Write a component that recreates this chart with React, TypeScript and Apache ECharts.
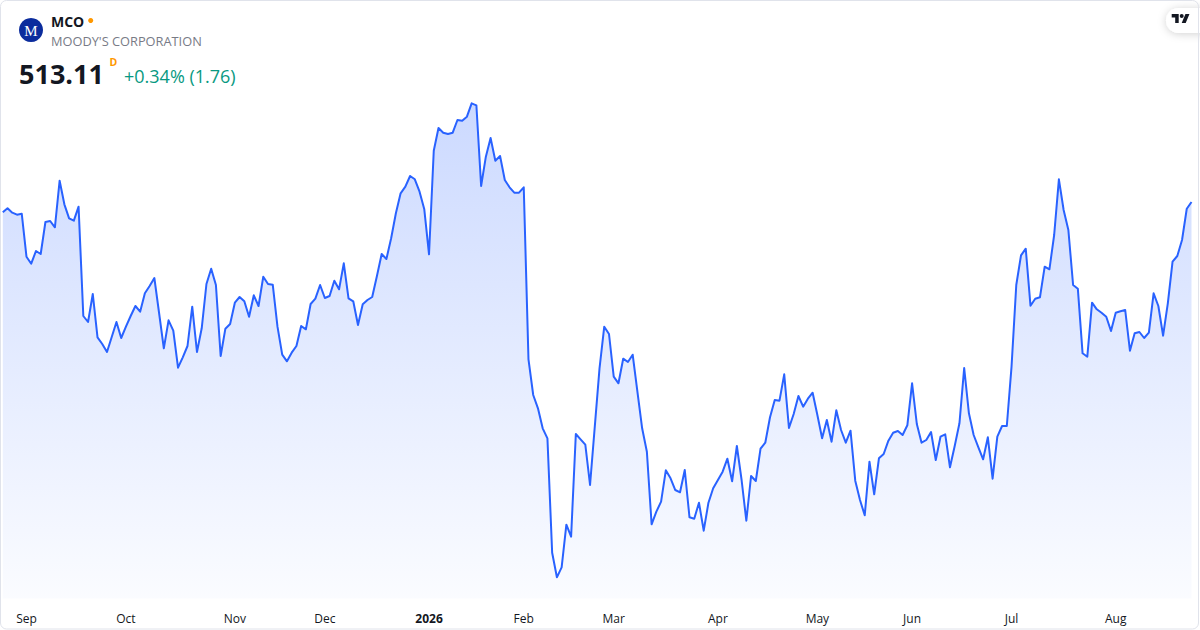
import React, { useEffect, useRef } from "react";
import * as echarts from "echarts";

// ---- Data ----
const TICKER = "MCO";
const COMPANY = "MOODY'S CORPORATION";
const LAST_PRICE = "513.11";
const CHANGE_TEXT = "+0.34% (1.76)";

const START_DATE = "2025-08-25";
const HOLIDAYS = [
  "2025-09-01", "2025-11-27", "2025-12-25", "2026-01-01", "2026-01-19",
  "2026-02-16", "2026-04-03", "2026-05-25", "2026-06-19", "2026-07-03",
];
const MONTHS = ["Jan", "Feb", "Mar", "Apr", "May", "Jun", "Jul", "Aug", "Sep", "Oct", "Nov", "Dec"];

const closes = [
  510.43, 511.47, 510.33, 509.81, 510.07, 498.89, 497.07, 500.37, 499.59, 507.91,
  508.17, 506.53, 518.65, 512.51, 508.87, 508.25, 511.89, 483.47, 481.91, 489.19,
  477.93, 476.19, 474.11, 478.01, 481.91, 477.75, 480.69, 483.47, 486.07, 484.59,
  489.37, 491.27, 493.35, 484.25, 475.07, 482.35, 479.65, 470.03, 472.73, 475.67,
  485.89, 474.11, 480.27, 491.79, 495.77, 491.53, 473.07, 480.17, 481.39, 486.93,
  488.41, 487.29, 483.29, 488.85, 486.07, 493.69, 491.79, 491.61, 480.69, 473.41,
  471.69, 473.93, 475.67, 480.87, 480.01, 486.59, 487.97, 491.53, 488.15, 488.67,
  492.65, 490.41, 497.17, 488.07, 487.29, 481.13, 486.51, 487.63, 488.41, 493.87,
  499.59, 498.29, 503.67, 510.17, 515.37, 517.09, 519.87, 519.01, 515.79, 511.21,
  499.51, 526.45, 532.35, 531.13, 530.79, 531.13, 534.43, 534.25, 535.29, 538.77,
  538.25, 517.27, 524.89, 529.75, 523.85, 525.07, 518.83, 516.93, 515.53, 515.53,
  516.93, 472.21, 462.93, 459.47, 454.27, 451.67, 421.93, 415.53, 418.13, 429.21,
  426.09, 452.79, 451.41, 450.01, 439.53, 454.69, 469.87, 480.69, 478.79, 467.69,
  465.97, 472.37, 471.51, 473.41, 463.79, 454.27, 448.19, 429.31, 432.59, 435.19,
  443.35, 441.27, 438.23, 437.63, 443.43, 431.13, 430.77, 434.93, 427.65, 434.93,
  438.67, 440.83, 442.99, 446.37, 440.49, 449.67, 440.83, 430.25, 441.87, 440.57,
  448.97, 450.53, 457.13, 461.63, 461.45, 468.31, 454.35, 457.99, 462.67, 459.89,
  461.97, 463.53, 457.73, 451.67, 456.43, 450.79, 458.95, 453.83, 450.53, 453.65,
  440.65, 435.63, 431.65, 445.59, 437.11, 446.47, 447.59, 451.05, 453.13, 453.57,
  452.53, 455.05, 465.97, 455.39, 450.53, 451.23, 453.31, 446.03, 452.09, 452.71,
  444.13, 449.67, 455.57, 469.95, 458.17, 452.53, 449.33, 446.21, 451.93, 441.17,
  452.09, 454.87, 454.87, 470.29, 491.53, 499.25, 500.97, 486.15, 487.97, 488.33,
  496.29, 495.61, 504.53, 519.01, 511.03, 505.83, 491.53, 490.57, 473.77, 472.89,
  486.93, 485.21, 484.33, 483.29, 479.57, 484.33, 484.69, 485.03, 474.45, 478.97,
  479.31, 477.75, 479.13, 489.37, 486.07, 478.35, 486.77, 497.59, 499.07, 503.23,
  511.35, 513.11,
];

function tradingDays(start: string, count: number): string[] {
  const out: string[] = [];
  const [y, m, d] = start.split("-").map(Number);
  let t = Date.UTC(y, m - 1, d);
  while (out.length < count) {
    const dt = new Date(t);
    const iso = dt.toISOString().slice(0, 10);
    const wd = dt.getUTCDay();
    if (wd !== 0 && wd !== 6 && HOLIDAYS.indexOf(iso) < 0) out.push(iso);
    t += 86400000;
  }
  return out;
}

const dates = tradingDays(START_DATE, closes.length);

const FONT = "'Open Sans', 'Noto Sans', Roboto, sans-serif";

export default function App() {
  const ref = useRef<HTMLDivElement>(null);

  useEffect(() => {
    if (!ref.current) return;
    const chart = echarts.init(ref.current, undefined, { renderer: "svg" });
    const tvPath = "M14 22H7V11H0V4h14v18zM28 22h-8l7.5-18h8L28 22zM24 8a4 4 0 1 1-8 0a4 4 0 1 1 8 0z";
    echarts.graphic.registerShape("tvlogo", echarts.graphic.extendPath(tvPath, {}) as any);

    const isMonthStart = (idx: number) =>
      idx > 0 && dates[idx].slice(5, 7) !== dates[idx - 1].slice(5, 7);

    chart.setOption({
      animation: false,
      backgroundColor: "#ffffff",
      grid: { left: 2.8, right: 8.5, top: 90.88, bottom: 31.42, containLabel: false },
      xAxis: {
        type: "category",
        data: dates,
        boundaryGap: false,
        axisLine: { show: false },
        axisTick: { show: false },
        splitLine: { show: false },
        axisLabel: {
          interval: (idx: number) => isMonthStart(idx),
          formatter: (v: string) => {
            const mo = Number(v.slice(5, 7));
            if (mo === 1) return "{b|" + v.slice(0, 4) + "}";
            return MONTHS[mo - 1];
          },
          color: "#131722",
          fontSize: 12,
          fontFamily: FONT,
          margin: 14,
          rich: {
            b: { fontWeight: "bold", fontSize: 12, color: "#131722", fontFamily: FONT },
          },
        },
      },
      yAxis: {
        type: "value",
        min: 410,
        max: 542,
        show: false,
        splitLine: { show: false },
      },
      series: [
        {
          type: "line",
          data: closes,
          symbol: "none",
          smooth: false,
          lineStyle: { color: "#2962ff", width: 2, join: "round" },
          itemStyle: { color: "#2962ff" },
          areaStyle: {
            color: new echarts.graphic.LinearGradient(0, 0, 0, 1, [
              { offset: 0, color: "rgba(41,98,255,0.34)" },
              { offset: 1, color: "rgba(41,98,255,0.03)" },
            ]),
          },
        },
      ],
      graphic: [
        {
          type: "rect",
          silent: true,
          z: 100,
          shape: { x: 0.5, y: 0.5, width: 1198, height: 628.5, r: 6 },
          style: { fill: "none", stroke: "#e0e3eb", lineWidth: 1 },
        },
        {
          type: "circle",
          shape: { cx: 31, cy: 30, r: 12 },
          style: { fill: "#0b2c9d" },
        },
        {
          type: "text",
          x: 31,
          y: 30.5,
          style: {
            text: "M",
            fill: "#ffffff",
            font: "15px 'Liberation Serif', 'DejaVu Serif', serif",
            align: "center",
            verticalAlign: "middle",
          },
        },
        {
          type: "text",
          x: 51,
          y: 21.8,
          style: {
            text: TICKER,
            fill: "#131722",
            font: "bold 14px " + FONT,
            verticalAlign: "middle",
          },
        },
        {
          type: "circle",
          shape: { cx: 90.7, cy: 20.5, r: 2.5 },
          style: { fill: "#ff9800" },
        },
        {
          type: "text",
          x: 51,
          y: 41.2,
          style: {
            text: COMPANY,
            fill: "#787b86",
            font: "12.8px " + FONT,
            verticalAlign: "middle",
          },
        },
        {
          type: "text",
          x: 19,
          y: 73.2,
          style: {
            text: LAST_PRICE,
            fill: "#131722",
            font: "bold 27px " + FONT,
            verticalAlign: "middle",
          },
        },
        {
          type: "text",
          x: 109.5,
          y: 62,
          style: {
            text: "D",
            fill: "#ff9800",
            font: "bold 10.5px " + FONT,
            verticalAlign: "middle",
          },
        },
        {
          type: "text",
          x: 124,
          y: 75.5,
          style: {
            text: CHANGE_TEXT,
            fill: "#089981",
            font: "18px " + FONT,
            verticalAlign: "middle",
          },
        },
        {
          type: "rect",
          shape: { x: 1166, y: 8, width: 60, height: 25, r: 12.5 },
          style: {
            fill: "#ffffff",
            shadowBlur: 8,
            shadowColor: "rgba(0,0,0,0.18)",
            shadowOffsetY: 1,
          },
        },
        {
          type: "tvlogo",
          x: 1171.7,
          y: 12,
          scaleX: 0.5,
          scaleY: 0.5,
          style: { fill: "#131722" },
        },
      ],
    });

    return () => {
      chart.dispose();
    };
  }, []);

  return (
    <div
      ref={ref}
      style={{ position: "absolute", left: 0, top: 0, width: 1200, height: 630 }}
    />
  );
}
